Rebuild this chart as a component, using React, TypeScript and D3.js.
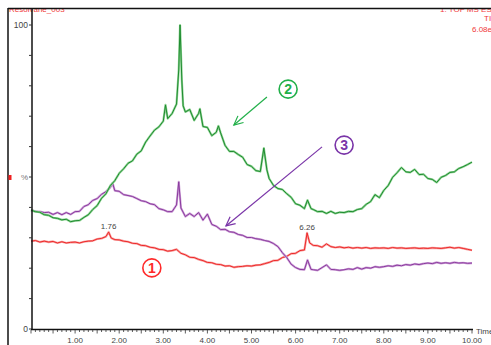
import * as d3 from "d3";

// chromatogram traces: [retention time (min), relative intensity %]
const trace1: [number, number][] = [
  [0, 28.9], [0.1, 29.1], [0.2, 28.6], [0.3, 28.9], [0.4, 28.6], [0.5, 28.8], [0.6, 28.3], [0.7, 28.7], [0.8, 28.3], [0.9, 28.5],
  [1.0, 28.6], [1.1, 28.3], [1.2, 28.7], [1.3, 28.9], [1.4, 29.0], [1.5, 29.6], [1.6, 29.8], [1.7, 30.4], [1.76, 31.9], [1.82, 29.9],
  [1.9, 29.4], [2.0, 29.3], [2.1, 28.9], [2.2, 28.7], [2.3, 28.2], [2.4, 28.1], [2.5, 27.5], [2.6, 27.4], [2.7, 26.9], [2.8, 26.7],
  [2.9, 26.2], [3.0, 26.1], [3.1, 25.6], [3.2, 25.8], [3.3, 26.2], [3.4, 24.9], [3.5, 24.4], [3.6, 23.6], [3.7, 23.5], [3.8, 22.9],
  [3.9, 22.5], [4.0, 21.9], [4.1, 21.8], [4.2, 21.3], [4.3, 21.2], [4.4, 20.7], [4.5, 20.8], [4.6, 20.3], [4.7, 20.5], [4.8, 20.6],
  [4.9, 20.8], [5.0, 20.7], [5.1, 21.0], [5.2, 21.1], [5.3, 21.5], [5.4, 21.9], [5.5, 22.5], [5.6, 22.6], [5.7, 23.5], [5.8, 23.9],
  [5.9, 24.8], [6.0, 24.9], [6.1, 25.8], [6.2, 26.0], [6.26, 31.6], [6.32, 28.3], [6.4, 27.5], [6.5, 27.4], [6.6, 26.9], [6.7, 28.0],
  [6.8, 27.1], [6.9, 26.8], [7.0, 27.0], [7.1, 26.7], [7.2, 26.9], [7.3, 26.6], [7.4, 26.8], [7.5, 26.6], [7.6, 26.8], [7.7, 26.5],
  [7.8, 26.7], [7.9, 26.6], [8.0, 26.7], [8.1, 26.5], [8.2, 26.8], [8.3, 26.6], [8.4, 26.7], [8.5, 26.5], [8.6, 26.6], [8.7, 26.7],
  [8.8, 26.5], [8.9, 26.6], [9.0, 26.5], [9.1, 26.7], [9.2, 26.6], [9.3, 26.5], [9.4, 26.7], [9.5, 26.9], [9.6, 26.6], [9.7, 26.8],
  [9.8, 26.5], [9.9, 26.2], [10.0, 25.9],
];

const trace2: [number, number][] = [
  [0, 39.1], [0.1, 38.6], [0.2, 38.4], [0.3, 37.6], [0.4, 37.4], [0.5, 36.6], [0.6, 36.4], [0.7, 35.9], [0.8, 36.1], [0.9, 35.3],
  [1.0, 35.6], [1.1, 35.7], [1.2, 36.7], [1.3, 37.6], [1.4, 39.3], [1.5, 40.6], [1.6, 43.0], [1.7, 44.5], [1.8, 47.2], [1.9, 48.8],
  [2.0, 51.2], [2.1, 52.7], [2.2, 54.5], [2.3, 55.3], [2.4, 57.5], [2.5, 58.6], [2.6, 61.5], [2.7, 63.5], [2.8, 65.4], [2.9, 66.5],
  [3.0, 68.4], [3.05, 73.7], [3.1, 69.2], [3.2, 70.9], [3.3, 74.0], [3.35, 85.2], [3.38, 100], [3.42, 81.9], [3.45, 73.4], [3.5, 71.4],
  [3.6, 72.2], [3.7, 68.6], [3.8, 70.9], [3.83, 72.4], [3.9, 66.6], [4.0, 66.3], [4.1, 63.6], [4.2, 64.7], [4.25, 66.8], [4.3, 64.5],
  [4.4, 60.4], [4.5, 58.4], [4.6, 58.4], [4.7, 57.4], [4.8, 56.5], [4.9, 54.1], [5.0, 53.5], [5.1, 52.1], [5.2, 51.8], [5.28, 59.5],
  [5.35, 52.3], [5.4, 49.5], [5.5, 47.2], [5.6, 46.2], [5.7, 45.9], [5.8, 44.5], [5.9, 43.3], [6.0, 41.2], [6.1, 40.7], [6.2, 39.6],
  [6.27, 42.4], [6.35, 39.6], [6.4, 39.3], [6.5, 38.6], [6.6, 38.7], [6.7, 38.0], [6.8, 38.7], [6.9, 38.0], [7.0, 38.4], [7.1, 38.3],
  [7.2, 38.7], [7.3, 38.6], [7.4, 39.3], [7.5, 39.6], [7.6, 41.0], [7.7, 41.9], [7.8, 44.2], [7.9, 43.2], [8.0, 45.6], [8.1, 47.2],
  [8.2, 49.9], [8.3, 51.4], [8.4, 53.1], [8.5, 51.7], [8.6, 51.5], [8.7, 52.5], [8.8, 50.8], [8.9, 50.9], [9.0, 49.5], [9.1, 49.2],
  [9.2, 48.2], [9.3, 49.9], [9.4, 50.5], [9.5, 51.5], [9.6, 51.7], [9.7, 52.8], [9.8, 53.4], [9.9, 54.1], [10.0, 54.9],
];

const trace3: [number, number][] = [
  [0, 39.1], [0.1, 38.7], [0.2, 38.6], [0.3, 38.3], [0.4, 38.4], [0.5, 37.7], [0.6, 38.3], [0.7, 37.6], [0.8, 38.3], [0.9, 37.7],
  [1.0, 38.6], [1.1, 38.7], [1.2, 40.3], [1.3, 40.9], [1.4, 42.3], [1.5, 42.9], [1.6, 44.3], [1.7, 45.2], [1.8, 46.6], [1.85, 48.0],
  [1.9, 45.5], [2.0, 45.3], [2.1, 44.2], [2.2, 43.9], [2.3, 43.6], [2.4, 42.9], [2.5, 42.2], [2.6, 41.9], [2.7, 41.2], [2.8, 40.9],
  [2.9, 39.6], [3.0, 39.2], [3.1, 38.6], [3.2, 38.6], [3.3, 40.8], [3.35, 48.4], [3.4, 39.8], [3.5, 37.0], [3.6, 38.0], [3.7, 37.0],
  [3.8, 38.3], [3.9, 35.8], [4.0, 37.8], [4.1, 34.4], [4.2, 33.8], [4.3, 32.7], [4.4, 32.8], [4.5, 32.0], [4.6, 31.8], [4.7, 31.1],
  [4.8, 30.8], [4.9, 30.1], [5.0, 30.1], [5.1, 29.7], [5.2, 29.5], [5.3, 29.1], [5.4, 28.8], [5.5, 28.1], [5.6, 27.1], [5.7, 25.1],
  [5.8, 23.5], [5.9, 21.3], [6.0, 20.2], [6.1, 19.6], [6.2, 19.5], [6.27, 22.7], [6.35, 19.6], [6.4, 19.5], [6.5, 19.3], [6.6, 20.2],
  [6.7, 21.1], [6.8, 19.6], [6.9, 19.5], [7.0, 19.3], [7.1, 19.5], [7.2, 19.8], [7.3, 19.6], [7.4, 20.2], [7.5, 19.7], [7.6, 20.2],
  [7.7, 20.0], [7.8, 20.5], [7.9, 20.3], [8.0, 20.5], [8.1, 20.8], [8.2, 20.6], [8.3, 21.0], [8.4, 20.8], [8.5, 21.2], [8.6, 21.0],
  [8.7, 21.4], [8.8, 21.2], [8.9, 21.5], [9.0, 21.7], [9.1, 21.5], [9.2, 21.9], [9.3, 21.6], [9.4, 21.8], [9.5, 21.6], [9.6, 21.9],
  [9.7, 21.7], [9.8, 21.8], [9.9, 21.6], [10.0, 21.7],
];

const peakLabels = [
  { t: 1.76, v: 31.9, text: "1.76" },
  { t: 6.26, v: 31.6, text: "6.26" },
];

const xTickLabels = [1, 2, 3, 4, 5, 6, 7, 8, 9, 10];

// circled numbers + arrows, in data units
const callouts = [
  { num: "1", color: "#ff2a2a", cx: 2.74, cy: 20.1, from: null, to: null },
  { num: "2", color: "#22b04a", cx: 5.83, cy: 78.9, from: [5.35, 76.3], to: [4.6, 67.1] },
  { num: "3", color: "#7a35a8", cx: 7.1, cy: 60.5, from: [6.6, 59.9], to: [4.42, 33.9] },
];

const W = 491;
const H = 345;
const font = "'Liberation Sans', Arial, sans-serif";

export default function App() {
  const x = d3.scaleLinear().domain([0, 10]).range([31, 472]);
  const y = d3.scaleLinear().domain([0, 100]).range([329, 25]);

  const line = d3
    .line<[number, number]>()
    .x((d) => x(d[0]))
    .y((d) => y(d[1]));

  const minorTicks = d3.range(0, 101).map((i) => i / 10);
  const yTicks = d3.range(0, 101, 10);

  const series = [
    { data: trace1, dark: "#ee2a2a", light: "#f7a0a0" },
    { data: trace3, dark: "#8a3a9e", light: "#cfa3d8" },
    { data: trace2, dark: "#1f8c30", light: "#8fd394" },
  ];

  function arrow(c: any) {
    const x1 = x(c.from[0]);
    const y1 = y(c.from[1]);
    const x2 = x(c.to[0]);
    const y2 = y(c.to[1]);
    const a = Math.atan2(y2 - y1, x2 - x1);
    const len = 10;
    const spread = 0.45;
    const h1 = [x2 - len * Math.cos(a - spread), y2 - len * Math.sin(a - spread)];
    const h2 = [x2 - len * Math.cos(a + spread), y2 - len * Math.sin(a + spread)];
    return (
      <g stroke={c.color} strokeWidth={1.2} fill="none">
        <line x1={x1} y1={y1} x2={x2} y2={y2} />
        <polyline points={`${h1[0]},${h1[1]} ${x2},${y2} ${h2[0]},${h2[1]}`} />
      </g>
    );
  }

  return (
    <svg
      width={W}
      height={H}
      viewBox={`0 0 ${W} ${H}`}
      style={{ position: "absolute", left: 0, top: 0, background: "#fff" }}
    >
      <defs>
        <clipPath id="below-frame">
          <rect x={0} y={9} width={W} height={H} />
        </clipPath>
      </defs>

      {/* header texts, cut by the frame */}
      <g clipPath="url(#below-frame)" fontFamily={font} fill="#f03a3a" fontSize={8}>
        <text x={9} y={12}>Resolvane_003</text>
        <text x={440} y={12}>1: TOF MS ES+</text>
        <text x={484} y={21}>TIC</text>
        <text x={472} y={32}>6.08e6</text>
      </g>

      {/* frame */}
      <line x1={8} y1={8.5} x2={W} y2={8.5} stroke="#111" strokeWidth={1.5} />
      <line x1={8} y1={8} x2={8} y2={H} stroke="#111" strokeWidth={1.5} />
      <rect x={8.5} y={175} width={3} height={5} fill="#f02020" />

      {/* traces */}
      {series.map((s, i) => (
        <g key={i} fill="none">
          <path d={line(s.data) ?? ""} stroke={s.light} strokeWidth={2.2} strokeLinejoin="round" />
          <path d={line(s.data) ?? ""} stroke={s.dark} strokeWidth={1} strokeLinejoin="round" />
        </g>
      ))}

      {/* peak labels */}
      {peakLabels.map((p) => (
        <text
          key={p.text}
          x={x(p.t)}
          y={y(p.v) - 3}
          textAnchor="middle"
          fontFamily={font}
          fontSize={8}
          fill="#444"
        >
          {p.text}
        </text>
      ))}

      {/* y axis */}
      <line x1={32} y1={8} x2={32} y2={330} stroke="#111" strokeWidth={1.5} />
      {yTicks.map((t) => (
        <line key={t} x1={29} x2={32} y1={y(t)} y2={y(t)} stroke="#333" strokeWidth={1} />
      ))}
      <g fontFamily={font} fontSize={8.5} fill="#444" textAnchor="end">
        <text x={28} y={y(100) + 3}>100</text>
        <text x={28} y={y(50) + 3} fill="#777" fontSize={8}>%</text>
        <text x={28} y={y(0) + 3}>0</text>
      </g>

      {/* x axis */}
      <line x1={31} y1={329.5} x2={473} y2={329.5} stroke="#111" strokeWidth={1.5} />
      {minorTicks.map((t) => {
        const major = Math.abs(t - Math.round(t)) < 1e-6 || Math.abs(t * 2 - Math.round(t * 2)) < 1e-6;
        return (
          <line
            key={t}
            x1={x(t)}
            x2={x(t)}
            y1={330}
            y2={major ? 333.5 : 332}
            stroke="#333"
            strokeWidth={0.8}
          />
        );
      })}
      <g fontFamily={font} fontSize={8} fill="#444" textAnchor="middle">
        {xTickLabels.map((t) => (
          <text key={t} x={x(t)} y={343}>
            {d3.format(".2f")(t)}
          </text>
        ))}
        <text x={476} y={334} textAnchor="start">Time</text>
      </g>

      {/* callouts */}
      {callouts.map((c) => (
        <g key={c.num}>
          {c.from && arrow(c)}
          <circle cx={x(c.cx)} cy={y(c.cy)} r={9} fill="none" stroke={c.color} strokeWidth={1.6} />
          <text
            x={x(c.cx)}
            y={y(c.cy) + 5}
            textAnchor="middle"
            fontFamily={font}
            fontWeight="bold"
            fontSize={14}
            fill={c.color}
          >
            {c.num}
          </text>
        </g>
      ))}
    </svg>
  );
}
